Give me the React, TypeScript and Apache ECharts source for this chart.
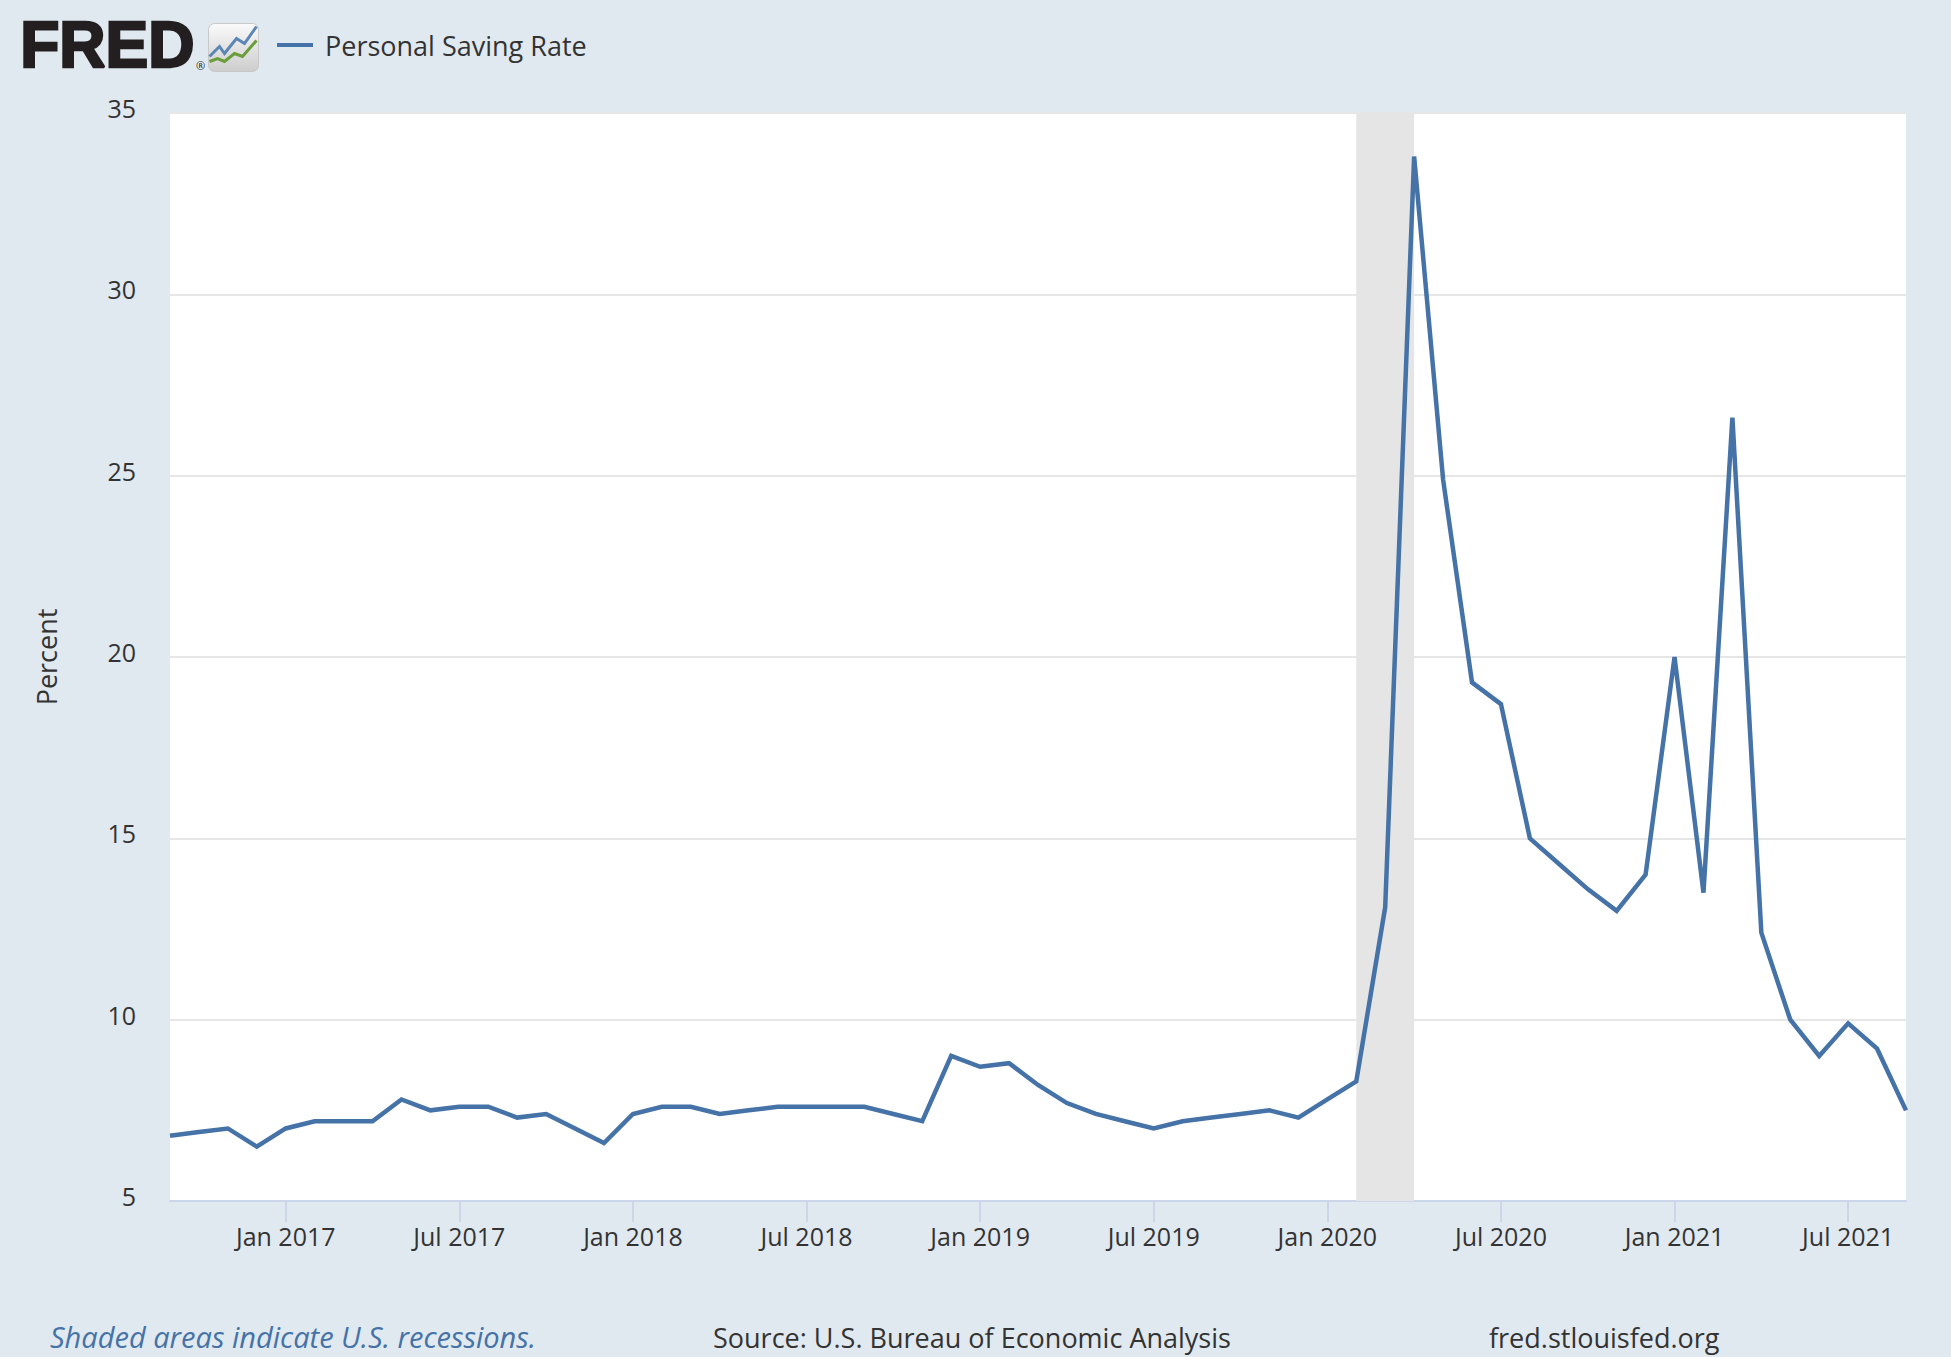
import React, { useEffect, useRef } from "react";
import * as echarts from "echarts";

// monthly observations, Sep 2016 .. Sep 2021
const months = [
  "2016-09", "2016-10", "2016-11", "2016-12",
  "2017-01", "2017-02", "2017-03", "2017-04", "2017-05", "2017-06",
  "2017-07", "2017-08", "2017-09", "2017-10", "2017-11", "2017-12",
  "2018-01", "2018-02", "2018-03", "2018-04", "2018-05", "2018-06",
  "2018-07", "2018-08", "2018-09", "2018-10", "2018-11", "2018-12",
  "2019-01", "2019-02", "2019-03", "2019-04", "2019-05", "2019-06",
  "2019-07", "2019-08", "2019-09", "2019-10", "2019-11", "2019-12",
  "2020-01", "2020-02", "2020-03", "2020-04", "2020-05", "2020-06",
  "2020-07", "2020-08", "2020-09", "2020-10", "2020-11", "2020-12",
  "2021-01", "2021-02", "2021-03", "2021-04", "2021-05", "2021-06",
  "2021-07", "2021-08", "2021-09",
];

const savingRate = [
  6.8, 6.9, 7.0, 6.5,
  7.0, 7.2, 7.2, 7.2, 7.8, 7.5, 7.6, 7.6, 7.3, 7.4, 7.0, 6.6,
  7.4, 7.6, 7.6, 7.4, 7.5, 7.6, 7.6, 7.6, 7.6, 7.4, 7.2, 9.0,
  8.7, 8.8, 8.2, 7.7, 7.4, 7.2, 7.0, 7.2, 7.3, 7.4, 7.5, 7.3,
  7.8, 8.3, 13.1, 33.8, 24.9, 19.3, 18.7, 15.0, 14.3, 13.6, 13.0, 14.0,
  20.0, 13.5, 26.6, 12.4, 10.0, 9.0, 9.9, 9.2, 7.5,
];

// COVID-19 recession shading
const recessionStart = "2020-02";
const recessionEnd = "2020-04";

const yMin = 5;
const yMax = 35;
const yStep = 5;

const monthNames = ["Jan", "Feb", "Mar", "Apr", "May", "Jun", "Jul", "Aug", "Sep", "Oct", "Nov", "Dec"];

const FONT = "'Open Sans', 'DejaVu Sans', sans-serif";
const TEXT = "#333333";
const AXIS = "#ccd6eb";

export default function App() {
  const ref = useRef<HTMLDivElement | null>(null);

  useEffect(() => {
    const chart = echarts.init(ref.current!, null, { renderer: "svg" });

    // labels and ticks only on January and July
    const halfYear = (_i: number, v: string) => v.endsWith("-01") || v.endsWith("-07");

    chart.setOption({
      animation: false,
      backgroundColor: "#e1e9f0",
      textStyle: { fontFamily: FONT },
      grid: {
        left: 170,
        right: 45,
        top: 113,
        bottom: 156,
        show: true,
        backgroundColor: "#ffffff",
        borderWidth: 0,
      },
      legend: {
        left: 272,
        top: 25,
        icon: "rect",
        itemWidth: 36,
        itemHeight: 4,
        textStyle: { fontSize: 27, color: TEXT, fontFamily: FONT, lineHeight: 30, padding: [0, 0, 0, 7] },
        data: ["Personal Saving Rate"],
      },
      xAxis: {
        type: "category",
        data: months,
        boundaryGap: false,
        axisLine: { lineStyle: { color: AXIS, width: 2 } },
        axisTick: { show: true, interval: halfYear, length: 21, lineStyle: { color: AXIS, width: 2 } },
        axisLabel: {
          interval: halfYear,
          margin: 22,
          fontSize: 25,
          color: TEXT,
          fontFamily: FONT,
          formatter: (v: string) => {
            const [y, m] = v.split("-");
            return `${monthNames[Number(m) - 1]} ${y}`;
          },
        },
        splitLine: { show: false },
      },
      yAxis: {
        type: "value",
        min: yMin,
        max: yMax,
        interval: yStep,
        name: "Percent",
        nameLocation: "middle",
        nameGap: 110,
        nameRotate: 90,
        nameTextStyle: { fontSize: 27, color: TEXT, fontFamily: FONT },
        axisLine: { show: false },
        axisTick: { show: false },
        axisLabel: {
          fontSize: 25,
          color: TEXT,
          fontFamily: FONT,
          margin: 34,
          verticalAlign: "bottom",
          lineHeight: 10,
        },
        splitLine: { lineStyle: { color: "#e6e6e6", width: 2 } },
      },
      series: [
        {
          name: "Personal Saving Rate",
          type: "line",
          data: savingRate,
          showSymbol: false,
          symbol: "none",
          color: "#4572a7",
          lineStyle: { color: "#4572a7", width: 4.5, join: "miter" },
          markArea: {
            silent: true,
            itemStyle: { color: "#e5e5e5", opacity: 1 },
            data: [[{ xAxis: recessionStart }, { xAxis: recessionEnd }]],
          },
        },
      ],
      graphic: [
        {
          type: "text",
          left: 19,
          top: 12,
          style: {
            text: "FRED",
            fontFamily: "'Liberation Sans', Arial, sans-serif",
            fontWeight: "bold",
            fontSize: 64,
            fill: "#231f20",
            stroke: "#231f20",
            lineWidth: 2.5,
          },
        },
        {
          type: "text",
          left: 196,
          top: 60,
          style: { text: "®", fontSize: 11, fill: "#231f20", fontFamily: FONT },
        },
        {
          type: "group",
          left: 207,
          top: 23,
          children: [
            {
              type: "rect",
              shape: { x: 0, y: 0, width: 50, height: 48, r: 6 },
              style: {
                fill: new echarts.graphic.LinearGradient(0, 0, 0, 1, [
                  { offset: 0, color: "#fafafa" },
                  { offset: 1, color: "#cdcdcd" },
                ]),
                stroke: "#c8c8c8",
                lineWidth: 1,
              },
            },
            {
              type: "polyline",
              shape: { points: [[1, 33], [11, 23], [16, 30], [28, 15], [36, 20], [48, 3]] },
              style: { stroke: "#5b86b5", lineWidth: 3, fill: "none" },
            },
            {
              type: "polyline",
              shape: { points: [[1, 38], [9, 35], [16, 38], [26, 30], [34, 33], [48, 17]] },
              style: { stroke: "#6a9e3a", lineWidth: 3, fill: "none" },
            },
          ],
        },
        {
          type: "text",
          left: 50,
          top: 1322,
          style: {
            text: "Shaded areas indicate U.S. recessions.",
            fontSize: 29,
            fontStyle: "italic",
            fill: "#4572a7",
            fontFamily: FONT,
          },
        },
        {
          type: "text",
          left: 713,
          top: 1324,
          style: { text: "Source: U.S. Bureau of Economic Analysis", fontSize: 27, fill: TEXT, fontFamily: FONT },
        },
        {
          type: "text",
          left: 1489,
          top: 1324,
          style: { text: "fred.stlouisfed.org", fontSize: 27, fill: TEXT, fontFamily: FONT },
        },
      ],
    });

    return () => chart.dispose();
  }, []);

  return <div ref={ref} style={{ position: "fixed", left: 0, top: 0, width: 1951, height: 1357 }} />;
}
